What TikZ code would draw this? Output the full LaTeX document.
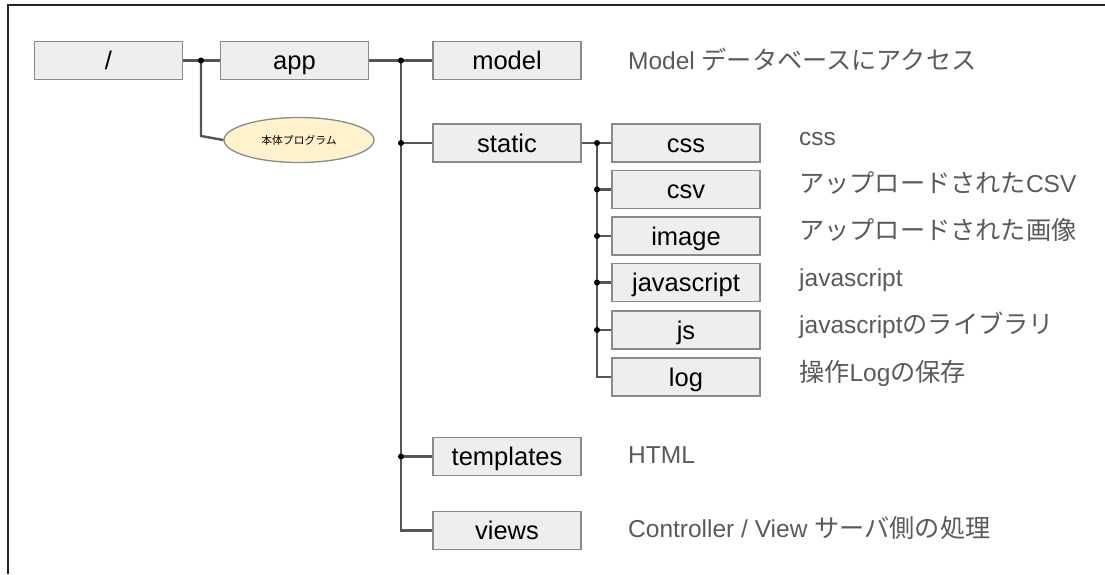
\documentclass[tikz,border=0pt]{standalone}
\usepackage{fontspec}
\setmainfont{Liberation Sans}
\newfontfamily\jp{Noto Sans CJK JP}
\newcommand{\jtxt}[1]{{\jp\fontsize{25.2}{28}\selectfont #1}}
\usetikzlibrary{shapes.geometric}
\definecolor{boxfill}{HTML}{EEEEEE}
\definecolor{boxline}{HTML}{8A8A8A}
\definecolor{wire}{HTML}{555555}
\definecolor{desc}{HTML}{5A5A5A}
\definecolor{ellfill}{HTML}{FFF2CC}
\tikzset{
  dirbox/.style={draw=boxline, fill=boxfill, line width=1.3pt, minimum width=148pt, minimum height=38pt,
    inner sep=0pt, text height=18pt, text depth=0pt, font=\fontsize{25.5}{30}\selectfont, anchor=center},
  wireline/.style={draw=wire, line width=2.4pt},
  desctext/.style={anchor=base west, inner sep=0pt, text=desc, font=\fontsize{24.5}{28}\selectfont},
  note/.style={ellipse, draw=boxline, fill=ellfill, line width=1.3pt, minimum width=150pt, minimum height=45pt,
    inner sep=0pt, font=\jp\fontsize{10.8}{12}\selectfont},
  frame/.style={draw=black!85, line width=1.8pt}
}
\begin{document}
\begin{tikzpicture}[x=1pt, y=-1pt]
\useasboundingbox (0,0) rectangle (1105,574);
% frame
\coordinate (fa) at (8,574);
\coordinate (fb) at (8,5);
\coordinate (fc) at (1105,5);
\draw[frame] (fa) -- (fb) -- (fc);

% boxes
\node[dirbox] (root) at (108.5,60.5) {/};
\node[dirbox] (app) at (294.5,60.5) {app};
\node[dirbox] (model) at (507,60.5) {model};
\node[dirbox] (static) at (507,143) {static};
\node[dirbox] (css) at (686,143) {css};
\node[dirbox] (csv) at (686,189.5) {csv};
\node[dirbox] (image) at (686,236) {image};
\node[dirbox] (javascript) at (686,282.5) {javascript};
\node[dirbox] (js) at (686,330) {js};
\node[dirbox] (log) at (686,377) {log};
\node[dirbox] (templates) at (507,456.5) {templates};
\node[dirbox] (views) at (507,530.5) {views};
\node[note] (main) at (299,140) {本体プログラム};

% junctions
\coordinate (j1) at (201,60.5);
\coordinate (j1b) at (201,136);
\coordinate (j2) at (401,60.5);
\coordinate (j2s) at (401,143);
\coordinate (j2t) at (401,456.5);
\coordinate (j2v) at (401,530.5);
\coordinate (s0) at (597,143);
\coordinate (s1) at (597,189.5);
\coordinate (s2) at (597,236);
\coordinate (s3) at (597,282.5);
\coordinate (s4) at (597,330);
\coordinate (s5) at (597,377);

% wires
\draw[wireline] (root.east) -- (app.west);
\draw[wireline] (j1) -- (j1b) -- (main.west);
\draw[wireline] (app.east) -- (model.west);
\draw[wireline] (j2) -- (j2v) -- (views.west);
\draw[wireline] (j2s) -- (static.west);
\draw[wireline] (j2t) -- (templates.west);
\draw[wireline] (static.east) -- (css.west);
\draw[wireline] (s0) -- (s5) -- (log.west);
\draw[wireline] (s1) -- (csv.west);
\draw[wireline] (s2) -- (image.west);
\draw[wireline] (s3) -- (javascript.west);
\draw[wireline] (s4) -- (js.west);

% dots
\foreach \p in {j1,j2,j2s,j2t,s0,s1,s2,s3,s4} \fill (\p) circle (3pt);

% descriptions
\node[desctext] (dmodel) at (628,69) {Model \jtxt{データベースにアクセス}};
\node[desctext] (dcss) at (799,145) {css};
\node[desctext] (dcsv) at (799,192) {\jtxt{アップロードされた}CSV};
\node[desctext] (dimage) at (799,239) {\jtxt{アップロードされた画像}};
\node[desctext] (djs1) at (799,286) {javascript};
\node[desctext] (djs2) at (799,333) {javascript\jtxt{のライブラリ}};
\node[desctext] (dlog) at (799,381) {\jtxt{操作}Log\jtxt{の保存}};
\node[desctext] (dtpl) at (628,463) {HTML};
\node[desctext] (dviews) at (628,537) {Controller / View \jtxt{サーバ側の処理}};
\end{tikzpicture}
\end{document}
